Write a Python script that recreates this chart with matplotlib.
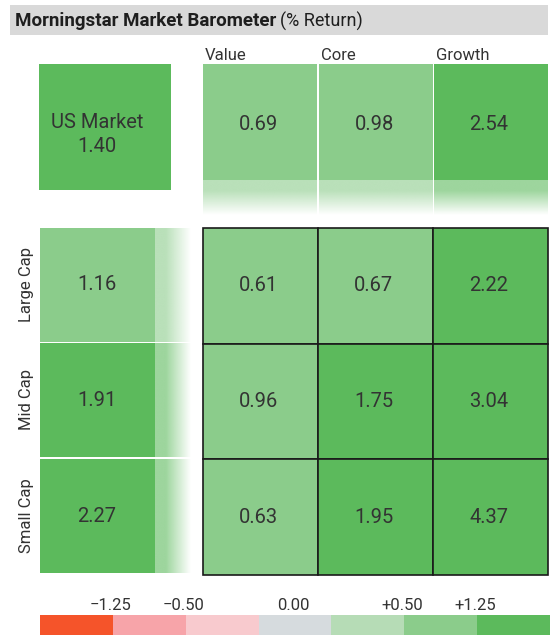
import matplotlib
matplotlib.use("Agg")
import matplotlib.pyplot as plt
import matplotlib.patches as mpatches
import numpy as np
from matplotlib.colors import to_rgb

# ── Data ─────────────────────────────────────────────────────────────────────
styles = ["Value", "Core", "Growth"]
sizes = ["Large Cap", "Mid Cap", "Small Cap"]
us_market = 1.40
style_returns = [0.69, 0.98, 2.54]
size_returns = [1.16, 1.91, 2.27]
grid_returns = [[0.61, 0.67, 2.22],
                [0.96, 1.75, 3.04],
                [0.63, 1.95, 4.37]]
scale_labels = ["\u22121.25", "\u22120.50", "0.00", "+0.50", "+1.25"]
scale_colors = ["#f5542a", "#f7a4a9", "#f8cace", "#d6dbde",
                "#b6dcb6", "#8bcc8b", "#5cba5c"]

plt.rcParams["font.family"] = ["Roboto", "DejaVu Sans"]
TXT = "#333333"


def cell_color(v):
    if v < -1.25:
        return scale_colors[0]
    if v < -0.50:
        return scale_colors[1]
    if v < 0:
        return scale_colors[2]
    if v == 0:
        return scale_colors[3]
    if v <= 0.50:
        return scale_colors[4]
    if v <= 1.25:
        return scale_colors[5]
    return scale_colors[6]


def fade(ax, color, x0, x1, y0, y1, horizontal):
    n = 100
    s = np.linspace(0, 1, n)
    ramp = np.where(s < 0.3, 0.6, 0.6 * (1 - (s - 0.3) / 0.7))
    rgba = np.ones((1, n, 4)) if horizontal else np.ones((n, 1, 4))
    rgb = to_rgb(color)
    for i in range(3):
        rgba[..., i] = rgb[i]
    rgba[..., 3] = ramp.reshape(rgba.shape[:2])
    ax.imshow(rgba, extent=(x0, x1, y1, y0), aspect="auto",
              interpolation="bilinear", zorder=1)


fig = plt.figure(figsize=(5.51, 6.35), dpi=100)
ax = fig.add_axes([0, 0, 1, 1])
ax.set_xlim(0, 551)
ax.set_ylim(635, 0)
ax.axis("off")

# ── Title bar ────────────────────────────────────────────────────────────────
ax.add_patch(mpatches.Rectangle((10, 5), 538, 30, color="#d9d9d9", lw=0))
t = ax.text(15, 21, "Morningstar Market Barometer", fontsize=13.5,
            fontweight="bold", va="center", ha="left", color="#1e1e1e")
fig.canvas.draw()
bb = t.get_window_extent().transformed(ax.transData.inverted())
ax.text(bb.x1 + 4, 21, "(% Return)", fontsize=13, va="center", ha="left",
        color="#1e1e1e")

# ── Layout ───────────────────────────────────────────────────────────────────
col_x = [203, 319, 434]
col_w = 114
top_y0, top_solid, top_fade = 64, 180, 215
row_y = [228, 343, 459]
row_h = 114
left_x0, left_solid, left_fade = 40, 155, 191
grid_x0, grid_x1 = 203, 548
grid_y0, grid_y1 = 228, 575
gw = (grid_x1 - grid_x0) / 3
gh = (grid_y1 - grid_y0) / 3
NUM = 14.5

# US market box
ax.add_patch(mpatches.Rectangle((39, 64), 132, 126,
                                facecolor=cell_color(us_market), lw=0))
ax.text(97, 123, "US Market", fontsize=NUM, ha="center", va="center", color=TXT)
ax.text(97, 146, f"{us_market:.2f}", fontsize=NUM, ha="center", va="center",
        color=TXT)

# Style row (top)
for i, (name, v) in enumerate(zip(styles, style_returns)):
    c = cell_color(v)
    x = col_x[i]
    ax.add_patch(mpatches.Rectangle((x, top_y0), col_w, top_solid - top_y0,
                                    facecolor=c, lw=0))
    fade(ax, c, x, x + col_w, top_solid, top_fade, horizontal=False)
    ax.text(x + 2, 55, name, fontsize=12, ha="left", va="center", color=TXT)
    ax.text(x + col_w / 2 - 2, 124, f"{v:.2f}", fontsize=NUM, ha="center",
            va="center", color=TXT)

# Size column (left)
for j, (name, v) in enumerate(zip(sizes, size_returns)):
    c = cell_color(v)
    y = row_y[j]
    ax.add_patch(mpatches.Rectangle((left_x0, y), left_solid - left_x0, row_h,
                                    facecolor=c, lw=0))
    fade(ax, c, left_solid, left_fade, y, y + row_h, horizontal=True)
    ax.text(27, y + row_h / 2, name, fontsize=12, rotation=90, ha="center",
            va="center", color=TXT)
    ax.text(97, y + row_h / 2, f"{v:.2f}",
            fontsize=NUM, ha="center", va="center", color=TXT)

# Main style box
for j in range(3):
    for i in range(3):
        v = grid_returns[j][i]
        x = grid_x0 + i * gw
        y = grid_y0 + j * gh
        ax.add_patch(mpatches.Rectangle((x, y), gw, gh, facecolor=cell_color(v),
                                        edgecolor="#1a1a1a", lw=1.2, zorder=2))
        ax.text(x + gw / 2 - 2, y + gh / 2, f"{v:.2f}", fontsize=NUM,
                ha="center", va="center", color=TXT, zorder=3)

# ── Colour scale ─────────────────────────────────────────────────────────────
sx0, sx1, sy0, sy1 = 40, 550, 615, 635
sw = (sx1 - sx0) / len(scale_colors)
for k, c in enumerate(scale_colors):
    ax.add_patch(mpatches.Rectangle((sx0 + k * sw, sy0), sw, sy1 - sy0,
                                    facecolor=c, lw=0))
label_pos = [sx0 + sw, sx0 + 2 * sw, sx0 + 3.5 * sw, sx0 + 5 * sw, sx0 + 6 * sw]
for lab, x in zip(scale_labels, label_pos):
    ax.text(x - 2, 606, lab, fontsize=12, ha="center", va="center", color=TXT)

fig.savefig("out.png", dpi=100)
